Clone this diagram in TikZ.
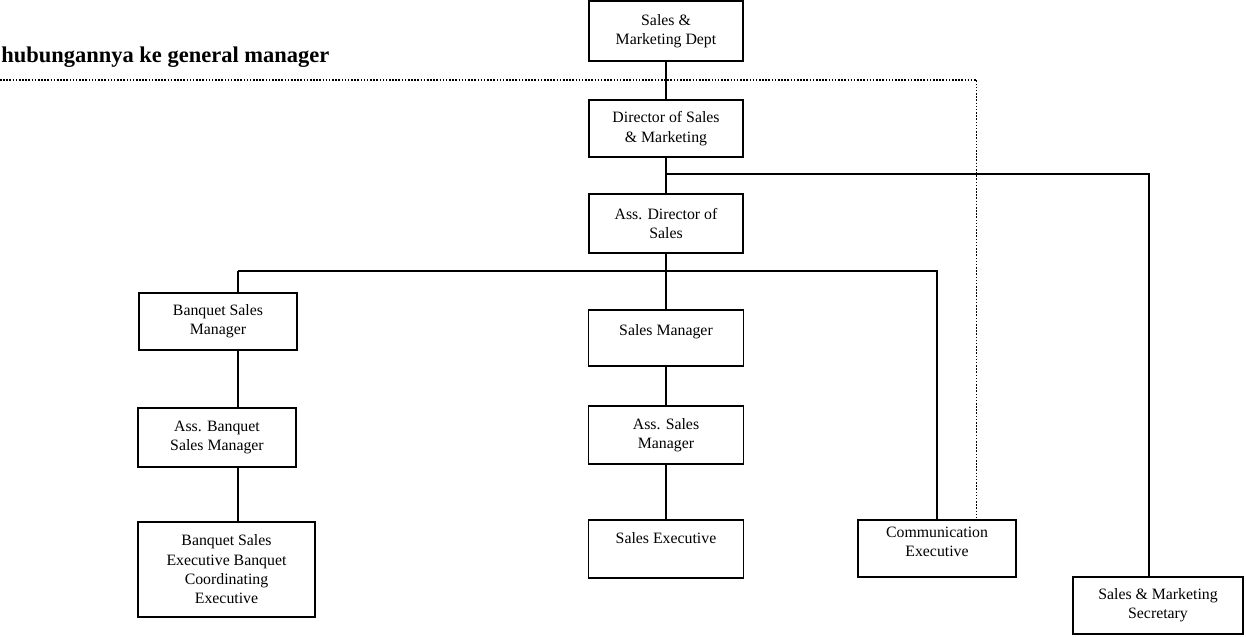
\documentclass[tikz,border=0pt]{standalone}
\usepackage{fontspec}
\setmainfont{Liberation Serif}
\usepackage{tikz}
\usetikzlibrary{positioning}

\begin{document}
\begin{tikzpicture}[x=0.02cm,y=-0.02cm]
        \tikzstyle{jabatan}=[draw,line width=0.9pt,align=center,inner sep=2pt,
            font=\fontsize{9}{11}\selectfont]
        \tikzstyle{garis}=[line width=0.6pt]
        \tikzstyle{putus}=[line width=0.7pt,dash pattern=on 0.9pt off 0.9pt]
        \useasboundingbox (0,0) rectangle (1246,636);

            % kolom tengah
            \node[jabatan,minimum width=3.08cm,minimum height=1.2cm] (dept) at (666,31) {Sales \&\\Marketing Dept};
            \node[jabatan,minimum width=3.08cm,minimum height=1.14cm] (dir) at (666,128.5) {Director of Sales\\\& Marketing};
            \node[jabatan,minimum width=3.08cm,minimum height=1.18cm] (adir) at (666,223.5) {Ass. Director of\\Sales};
            \node[jabatan,minimum width=3.1cm,minimum height=1.12cm,text depth=8.8pt] (sm) at (666,338) {Sales Manager};
            \node[jabatan,minimum width=3.1cm,minimum height=1.16cm] (asm) at (666,435) {Ass. Sales\\Manager};
            \node[jabatan,minimum width=3.1cm,minimum height=1.16cm,text depth=12pt] (se) at (666,549) {Sales Executive};

            % kolom kiri
            \node[jabatan,minimum width=3.16cm,minimum height=1.14cm] (bsm) at (218,321.5) {Banquet Sales\\Manager};
            \node[jabatan,minimum width=3.16cm,minimum height=1.18cm] (absm) at (217,437.5) {Ass. Banquet\\Sales Manager};
            \node[jabatan,minimum width=3.54cm,minimum height=1.9cm] (bse) at (226.5,569.5) {Banquet Sales\\Executive Banquet\\Coordinating\\Executive};

            % kolom kanan
            \node[jabatan,minimum width=3.16cm,minimum height=1.14cm,text depth=8pt] (ce) at (937,548.5) {Communication\\Executive};
            \node[jabatan,minimum width=3.4cm,minimum height=1.14cm] (sec) at (1158,605.5) {Sales \& Marketing\\Secretary};

            \node[anchor=base west,inner sep=0pt,font=\fontsize{12.8}{15}\selectfont\bfseries] (ket) at (1,62) {hubungannya ke general manager};

            \coordinate (gm) at (0,80);
            \coordinate (cabang) at (666,174);
            \coordinate (kiri) at (238,271);

            \draw[garis] (dept) -- (dir);
            \draw[garis] (dir) -- (adir);
            \draw[garis] (cabang) -| ([xshift=-0.18cm]sec.north);
            \draw[garis] (adir) -- (sm);
            \draw[garis] (kiri) -| (ce);
            \draw[garis] (kiri) -- (kiri |- bsm.north);
            \draw[garis] (bsm.south -| kiri) -- (absm.north -| kiri);
            \draw[garis] (absm.south -| kiri) -- (bse.north -| kiri);
            \draw[garis] (sm) -- (asm);
            \draw[garis] (asm) -- (se);
            \draw[putus] (gm) -| ([xshift=-0.8cm]ce.north east);
        \end{tikzpicture}
\end{document}
